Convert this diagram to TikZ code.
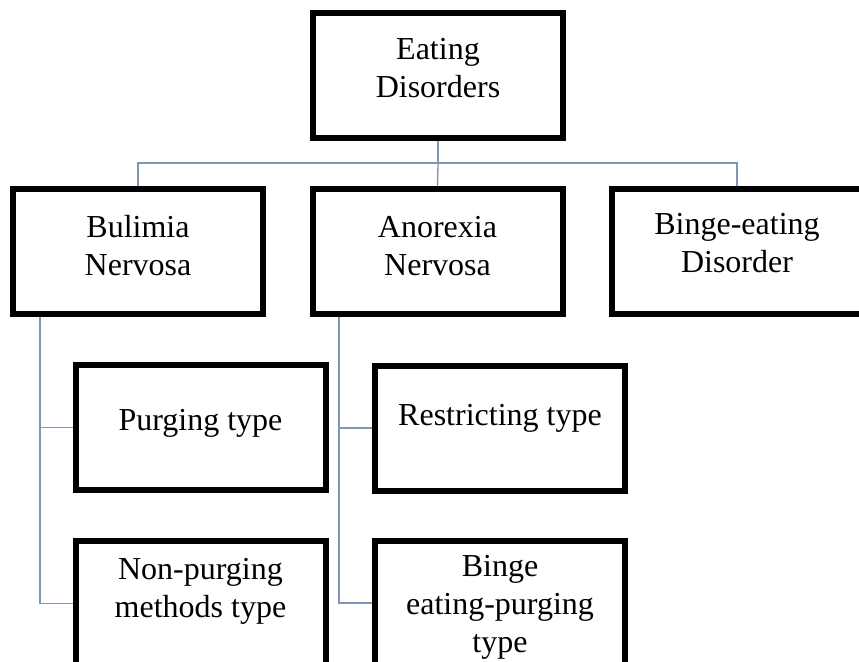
\documentclass[tikz,border=0pt]{standalone}
\usepackage{fontspec}
\setmainfont{Liberation Serif}
\begin{document}
\begin{tikzpicture}[x=1pt,y=-1pt,
  box/.style={draw=black,line width=4pt,minimum width=248pt,minimum height=123pt,inner sep=0pt,fill=white},
  lbl/.style={align=center,inner sep=0pt,font=\fontsize{32}{38}\selectfont},
  conn/.style={draw={rgb,255:red,128;green,150;blue,182},line width=1.3pt}]
\useasboundingbox (0,0) rectangle (859,661);
\clip (0,0) rectangle (859,661);
\fill[white] (0,0) rectangle (859,661);

% boxes
\node[box] (top)   at (438,75.5) {};
\node[box] (bul)   at (138,251.5) {};
\node[box] (ano)   at (437.5,251.5) {};
\node[box] (bed)   at (737,251) {};
\node[box] (purg)  at (200.5,427.5) {};
\node[box] (restr) at (500,428) {};
\node[box] (nonp)  at (200.5,603.5) {};
\node[box] (bep)   at (500,603) {};

% labels
\node[lbl] (ttop)   at (438,68)    {Eating\\Disorders};
\node[lbl] (tbul)   at (138,246)   {Bulimia\\Nervosa};
\node[lbl] (tano)   at (437.5,246) {Anorexia\\Nervosa};
\node[lbl] (tbed)   at (737,243)   {Binge-eating\\Disorder};
\node[lbl] (tpurg)  at (200.5,423.5) {Purging type};
\node[lbl] (trestr) at (500,418.5) {Restricting type};
\node[lbl] (tnonp)  at (200.5,591.5) {Non-purging\\methods type};
\node[lbl] (tbep)   at (500,607)   {Binge\\eating-purging\\type};

% hierarchy connectors
\coordinate (bus) at (438,163);
\coordinate (bulstem) at (40,313);
\coordinate (anostem) at (339,313);
\draw[conn] (top.south) -- (bus);
\draw[conn] (bus) -| (bul.north);
\draw[conn] (bus) -- (ano.north);
\draw[conn] (bus) -| (bed.north);
\draw[conn] (bulstem) |- (purg.west);
\draw[conn] (bulstem) |- (nonp.west);
\draw[conn] (anostem) |- (restr.west);
\draw[conn] (anostem) |- (bep.west);

% box outlines on top of connector ends
\foreach \b in {top,bul,ano,bed,purg,restr,nonp,bep}
  \draw[line width=4pt] (\b.north west) rectangle (\b.south east);
\end{tikzpicture}
\end{document}
